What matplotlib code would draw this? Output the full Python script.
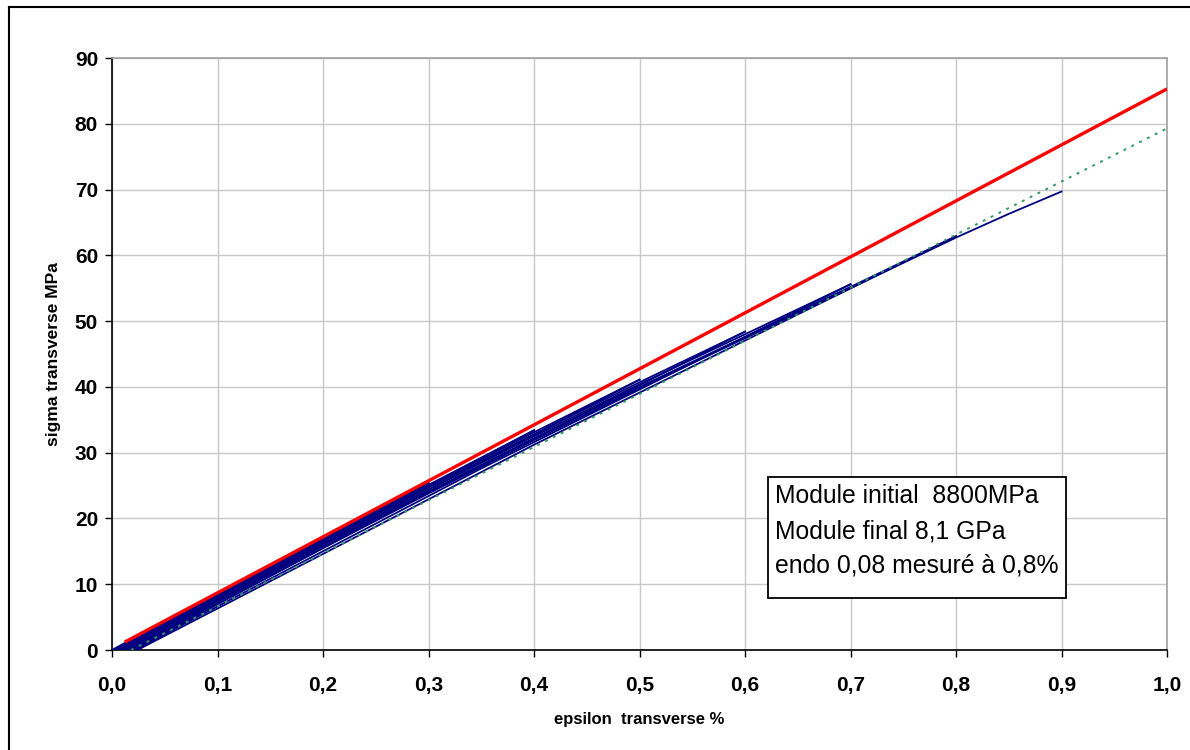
import matplotlib
matplotlib.use("Agg")
import matplotlib.pyplot as plt
from matplotlib.lines import Line2D
from matplotlib.patches import Rectangle

plt.rcParams['font.family'] = ['Liberation Sans', 'DejaVu Sans']

# ---- data ----
x_ticks = [0.0, 0.1, 0.2, 0.3, 0.4, 0.5, 0.6, 0.7, 0.8, 0.9, 1.0]
x_tick_labels = ['0,0', '0,1', '0,2', '0,3', '0,4', '0,5', '0,6', '0,7', '0,8', '0,9', '1,0']
y_ticks = [0, 10, 20, 30, 40, 50, 60, 70, 80, 90]

# red line : initial modulus
red_eps = [0.012, 1.0]
red_sig = [1.2, 85.3]

# green dotted : final modulus
green_eps = [0.018, 1.0]
green_sig = [0.0, 79.3]

# blue cyclic loading / unloading branches
c1_load_eps = [0.000, 0.05, 0.1]
c1_load_sig = [0.0, 4.4, 8.7]
c1_unl_eps = [0.1, 0.05, 0.003]
c1_unl_sig = [8.7, 4.1, 0.0]

c2_load_eps = [0.003, 0.1, 0.2]
c2_load_sig = [0.0, 8.5, 17.2]
c2_unl_eps = [0.2, 0.1, 0.006]
c2_unl_sig = [17.2, 8.2, 0.0]

c3_load_eps = [0.006, 0.1, 0.2, 0.3]
c3_load_sig = [0.0, 8.3, 16.9, 25.4]
c3_unl_eps = [0.3, 0.15, 0.009]
c3_unl_sig = [25.4, 12.4, 0.0]

c4_load_eps = [0.009, 0.1, 0.2, 0.3, 0.4]
c4_load_sig = [0.0, 8.1, 16.7, 25.1, 33.4]
c4_unl_eps = [0.4, 0.2, 0.012]
c4_unl_sig = [33.4, 16.4, 0.0]

c5_load_eps = [0.012, 0.1, 0.2, 0.3, 0.4, 0.5]
c5_load_sig = [0.0, 7.9, 16.5, 24.9, 33.1, 41.1]
c5_unl_eps = [0.5, 0.25, 0.015]
c5_unl_sig = [41.1, 20.2, 0.0]

c6_load_eps = [0.015, 0.1, 0.2, 0.3, 0.4, 0.5, 0.6]
c6_load_sig = [0.0, 7.7, 16.3, 24.7, 32.8, 40.7, 48.4]
c6_unl_eps = [0.6, 0.3, 0.018]
c6_unl_sig = [48.4, 24.0, 0.0]

c7_load_eps = [0.018, 0.1, 0.2, 0.3, 0.4, 0.5, 0.6, 0.7]
c7_load_sig = [0.0, 7.5, 16.1, 24.4, 32.5, 40.4, 48.0, 55.6]
c7_unl_eps = [0.7, 0.35, 0.021]
c7_unl_sig = [55.6, 27.6, 0.0]

c8_load_eps = [0.021, 0.1, 0.2, 0.3, 0.4, 0.5, 0.6, 0.7, 0.8]
c8_load_sig = [0.0, 7.3, 15.8, 24.1, 32.2, 40.0, 47.6, 55.2, 62.9]
c8_unl_eps = [0.8, 0.4, 0.024]
c8_unl_sig = [62.9, 31.2, 0.0]

final_eps = [0.024, 0.1, 0.2, 0.3, 0.4, 0.5, 0.6, 0.7, 0.8, 0.85, 0.9]
final_sig = [0.0, 7.0, 15.5, 23.8, 31.9, 39.8, 47.4, 55.0, 62.7, 66.3, 69.7]

annotation_lines = ["Module initial  8800MPa", "Module final 8,1 GPa", "endo 0,08 mesuré à 0,8%"]
x_label = "epsilon  transverse %"
y_label = "sigma transverse MPa"

blue_branches = [
    (c1_load_eps, c1_load_sig), (c1_unl_eps, c1_unl_sig),
    (c2_load_eps, c2_load_sig), (c2_unl_eps, c2_unl_sig),
    (c3_load_eps, c3_load_sig), (c3_unl_eps, c3_unl_sig),
    (c4_load_eps, c4_load_sig), (c4_unl_eps, c4_unl_sig),
    (c5_load_eps, c5_load_sig), (c5_unl_eps, c5_unl_sig),
    (c6_load_eps, c6_load_sig), (c6_unl_eps, c6_unl_sig),
    (c7_load_eps, c7_load_sig), (c7_unl_eps, c7_unl_sig),
    (c8_load_eps, c8_load_sig), (c8_unl_eps, c8_unl_sig),
    (final_eps, final_sig),
]

# ---- figure ----
W, H = 1190, 750
fig = plt.figure(figsize=(W / 100, H / 100), dpi=100)
fig.patch.set_facecolor('white')

# outer chart border (left and top visible)
bx, by = 9 / W, 1 - 7 / H
fig.add_artist(Line2D([bx, bx], [0, by], transform=fig.transFigure, color='black', lw=1.5))
fig.add_artist(Line2D([bx, 1], [by, by], transform=fig.transFigure, color='black', lw=1.5))

left, right, bottom, top = 112 / W, 1167 / W, 1 - 650 / H, 1 - 58 / H
ax = fig.add_axes([left, bottom, right - left, top - bottom])

for e, s in blue_branches:
    ax.plot(e, s, color='#000080', lw=1.3, zorder=3, solid_joinstyle='round')

ax.plot(green_eps, green_sig, color='#339966', lw=1.4, ls=(0, (1.5, 3)), zorder=4)
ax.plot(red_eps, red_sig, color='#ff0000', lw=2.4, zorder=5, solid_capstyle='butt')

ax.set_xlim(0, 1.0)
ax.set_ylim(0, 90)
ax.set_xticks(x_ticks)
ax.set_xticklabels(x_tick_labels)
ax.set_yticks(y_ticks)

ax.grid(True, color='#c8c8c8', lw=1.0)
ax.set_axisbelow(True)

for side in ['top', 'right']:
    ax.spines[side].set_color('#a0a0a0')
    ax.spines[side].set_linewidth(1.2)
for side in ['left', 'bottom']:
    ax.spines[side].set_color('black')
    ax.spines[side].set_linewidth(1.2)

ax.tick_params(axis='both', direction='out', length=5, width=1, color='black',
               labelsize=15)
ax.tick_params(axis='x', pad=14)
ax.tick_params(axis='y', pad=5)
for lab in ax.get_xticklabels() + ax.get_yticklabels():
    lab.set_fontweight('bold')

ax.set_xlabel(x_label, fontsize=12, fontweight='bold', labelpad=12)
ax.set_ylabel(y_label, fontsize=12.5, fontweight='bold', labelpad=10)

# annotation box (pixel placement)
bx0, by0, bx1, by1 = 768, 477, 1066, 598
fig.add_artist(Rectangle((bx0 / W, 1 - by1 / H), (bx1 - bx0) / W, (by1 - by0) / H,
                         transform=fig.transFigure, fc='white', ec='black', lw=1.3, zorder=6))
for i, line in enumerate(annotation_lines):
    fig.text(775 / W, 1 - (496 + i * 35) / H, line, fontsize=17.8, ha='left',
             va='center', zorder=7)

fig.savefig('out.png', dpi=100)
